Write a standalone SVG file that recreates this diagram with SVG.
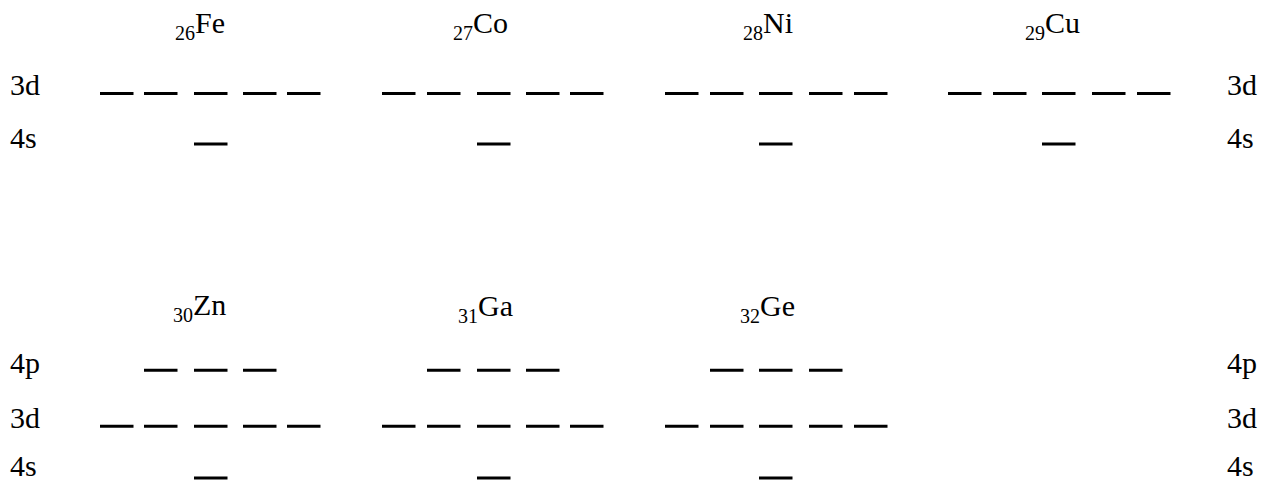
<svg xmlns="http://www.w3.org/2000/svg" width="1262" height="481" viewBox="0 0 1262 481">
<rect width="1262" height="481" fill="#fff"/>
<text x="10" y="95" font-family="Liberation Serif" font-size="30">3d</text>
<text x="10" y="148" font-family="Liberation Serif" font-size="30">4s</text>
<text x="1227" y="95" font-family="Liberation Serif" font-size="30">3d</text>
<text x="1227" y="148" font-family="Liberation Serif" font-size="30">4s</text>
<text x="10" y="373" font-family="Liberation Serif" font-size="30">4p</text>
<text x="10" y="428" font-family="Liberation Serif" font-size="30">3d</text>
<text x="10" y="476" font-family="Liberation Serif" font-size="30">4s</text>
<text x="1227" y="373" font-family="Liberation Serif" font-size="30">4p</text>
<text x="1227" y="428" font-family="Liberation Serif" font-size="30">3d</text>
<text x="1227" y="476" font-family="Liberation Serif" font-size="30">4s</text>
<g id="Fe" stroke="#000" stroke-width="3">
<text x="175" y="33" stroke="none" font-family="Times New Roman" font-size="30"><tspan font-size="20" y="40">26</tspan><tspan y="33">Fe</tspan></text>
<line x1="100" y1="93.5" x2="133.5" y2="93.5"/><line x1="144" y1="93.5" x2="177.5" y2="93.5"/><line x1="194" y1="93.5" x2="227.5" y2="93.5"/><line x1="243" y1="93.5" x2="276.5" y2="93.5"/><line x1="287" y1="93.5" x2="320.5" y2="93.5"/>
<line x1="194" y1="144" x2="227.5" y2="144"/>
</g>
<g id="Co" stroke="#000" stroke-width="3">
<text x="453" y="33" stroke="none" font-family="Times New Roman" font-size="30"><tspan font-size="20" y="40">27</tspan><tspan y="33">Co</tspan></text>
<line x1="382" y1="93.5" x2="415.5" y2="93.5"/><line x1="427" y1="93.5" x2="460.5" y2="93.5"/><line x1="477" y1="93.5" x2="510.5" y2="93.5"/><line x1="526" y1="93.5" x2="559.5" y2="93.5"/><line x1="570" y1="93.5" x2="603.5" y2="93.5"/>
<line x1="477" y1="144" x2="510.5" y2="144"/>
</g>
<g id="Ni" stroke="#000" stroke-width="3">
<text x="743" y="33" stroke="none" font-family="Times New Roman" font-size="30"><tspan font-size="20" y="40">28</tspan><tspan y="33">Ni</tspan></text>
<line x1="665" y1="93.5" x2="698.5" y2="93.5"/><line x1="710" y1="93.5" x2="743.5" y2="93.5"/><line x1="759" y1="93.5" x2="792.5" y2="93.5"/><line x1="809" y1="93.5" x2="842.5" y2="93.5"/><line x1="854" y1="93.5" x2="887.5" y2="93.5"/>
<line x1="759" y1="144" x2="792.5" y2="144"/>
</g>
<g id="Cu" stroke="#000" stroke-width="3">
<text x="1025" y="33" stroke="none" font-family="Times New Roman" font-size="30"><tspan font-size="20" y="40">29</tspan><tspan y="33">Cu</tspan></text>
<line x1="948" y1="93.5" x2="981.5" y2="93.5"/><line x1="993" y1="93.5" x2="1026.5" y2="93.5"/><line x1="1042" y1="93.5" x2="1075.5" y2="93.5"/><line x1="1092" y1="93.5" x2="1125.5" y2="93.5"/><line x1="1137" y1="93.5" x2="1170.5" y2="93.5"/>
<line x1="1042" y1="144" x2="1075.5" y2="144"/>
</g>
<g id="Zn" stroke="#000" stroke-width="3">
<text x="173" y="315" stroke="none" font-family="serif" font-size="30"><tspan font-size="20" y="322">30</tspan><tspan y="315">Zn</tspan></text>
<line x1="144" y1="370.3" x2="177.5" y2="370.3"/><line x1="194" y1="370.3" x2="227.5" y2="370.3"/><line x1="243" y1="370.3" x2="276.5" y2="370.3"/>
<line x1="100" y1="426.3" x2="133.5" y2="426.3"/><line x1="144" y1="426.3" x2="177.5" y2="426.3"/><line x1="194" y1="426.3" x2="227.5" y2="426.3"/><line x1="243" y1="426.3" x2="276.5" y2="426.3"/><line x1="287" y1="426.3" x2="320.5" y2="426.3"/>
<line x1="194" y1="478" x2="227.5" y2="478"/>
</g>
<g id="Ga" stroke="#000" stroke-width="3">
<text x="458" y="316" stroke="none" font-family="serif" font-size="30"><tspan font-size="20" y="323">31</tspan><tspan y="316">Ga</tspan></text>
<line x1="427" y1="370.3" x2="460.5" y2="370.3"/><line x1="477" y1="370.3" x2="510.5" y2="370.3"/><line x1="526" y1="370.3" x2="559.5" y2="370.3"/>
<line x1="382" y1="426.3" x2="415.5" y2="426.3"/><line x1="427" y1="426.3" x2="460.5" y2="426.3"/><line x1="477" y1="426.3" x2="510.5" y2="426.3"/><line x1="526" y1="426.3" x2="559.5" y2="426.3"/><line x1="570" y1="426.3" x2="603.5" y2="426.3"/>
<line x1="477" y1="478" x2="510.5" y2="478"/>
</g>
<g id="Ge" stroke="#000" stroke-width="3">
<text x="740" y="316" stroke="none" font-family="serif" font-size="30"><tspan font-size="20" y="323">32</tspan><tspan y="316">Ge</tspan></text>
<line x1="710" y1="370.3" x2="743.5" y2="370.3"/><line x1="759" y1="370.3" x2="792.5" y2="370.3"/><line x1="809" y1="370.3" x2="842.5" y2="370.3"/>
<line x1="665" y1="426.3" x2="698.5" y2="426.3"/><line x1="710" y1="426.3" x2="743.5" y2="426.3"/><line x1="759" y1="426.3" x2="792.5" y2="426.3"/><line x1="809" y1="426.3" x2="842.5" y2="426.3"/><line x1="854" y1="426.3" x2="887.5" y2="426.3"/>
<line x1="759" y1="478" x2="792.5" y2="478"/>
</g>
<g id="connectors"/>
</svg>
